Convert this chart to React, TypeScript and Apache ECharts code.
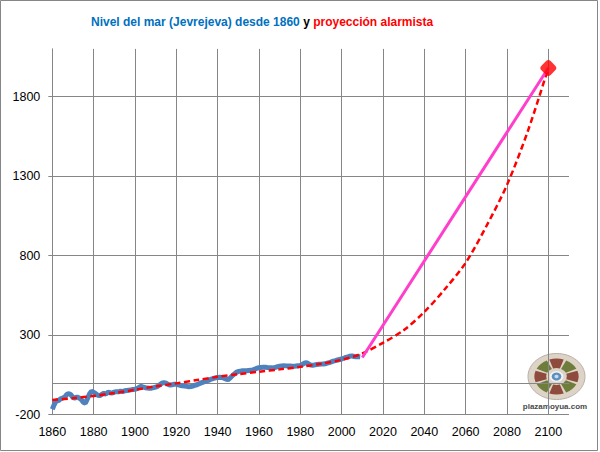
import React, { useEffect, useRef } from "react";
import * as echarts from "echarts";

const blueStartYear = 1860;
const blueValues = [
  -165, -135, -110, -112, -100, -95, -90, -72, -68, -75,
  -92, -95, -88, -95, -105, -122, -128, -100, -70, -52,
  -60, -68, -78, -80, -72, -66, -70, -58, -62, -64,
  -58, -55, -56, -52, -55, -50, -48, -46, -44, -42,
  -40, -36, -28, -22, -26, -30, -32, -34, -33, -30,
  -26, -22, -12, -2, 2, -2, -10, -14, -12, -8,
  -9, -12, -16, -18, -20, -22, -24, -23, -20, -15,
  -12, -6, 0, 5, 10, 14, 18, 24, 28, 32,
  34, 36, 34, 30, 24, 20, 30, 44, 55, 66,
  72, 74, 76, 77, 76, 78, 80, 82, 86, 92,
  95, 97, 98, 99, 97, 96, 95, 94, 98, 102,
  105, 107, 108, 107, 106, 107, 105, 104, 106, 108,
  110, 116, 124, 128, 120, 112, 110, 113, 116, 117,
  118, 119, 120, 124, 128, 132, 137, 140, 144, 147,
  150, 155, 160, 163, 168, 170, 166, 164, 165, 164,
];

const trendYears = [
  1860, 1870, 1880, 1890, 1900, 1910, 1920, 1930, 1940, 1950, 1960, 1970,
  1980, 1990, 2000, 2010, 2020, 2030, 2040, 2050, 2060, 2070, 2080, 2090, 2100,
];
const trendValues = [
  -108, -96, -82, -64, -43, -22, -3, 18, 38, 55, 70, 85,
  101, 120, 145, 185, 252, 331, 446, 590, 755, 985, 1245, 1580, 1980,
];

const projYears = [2010, 2100];
const projValues = [160, 1980];

const targetYears = [2100];
const targetValues = [1980];

const xTicks = [1860, 1880, 1900, 1920, 1940, 1960, 1980, 2000, 2020, 2040, 2060, 2080, 2100];
const yTicks = [-200, 300, 800, 1300, 1800];

const FONT = "Liberation Sans, Arial, sans-serif";
const GRID = "#868686";

export default function App() {
  const ref = useRef<HTMLDivElement>(null);

  useEffect(() => {
    if (!ref.current) return;
    const chart = echarts.init(ref.current, undefined, { renderer: "svg" });

    const blueData = blueValues.map((v, i) => [blueStartYear + i, v]);
    const trendData = trendValues.map((v, i) => [trendYears[i], v]);
    const projData = projValues.map((v, i) => [projYears[i], v]);
    const targetData = targetValues.map((v, i) => [targetYears[i], v]);

    const segColors = ["#8e4a3c", "#6f7d3c", "#8e4a3c", "#6f7d3c", "#8e4a3c", "#6f7d3c", "#8e4a3c", "#6f7d3c"];
    const segs = segColors.map((c, k) => {
      const mid = (k * 45 * Math.PI) / 180;
      const half = (19 * Math.PI) / 180;
      return {
        type: "sector",
        shape: { cx: 0, cy: 0, r0: 8, r: 17, startAngle: mid - half, endAngle: mid + half, clockwise: true },
        style: { fill: c },
      };
    });

    const plain = (v: number) => String(v);

    const option: any = {
      animation: false,
      backgroundColor: "#ffffff",
      title: {
        left: 86,
        top: 11,
        text: "{b|Nivel del mar (Jevrejeva) desde 1860} {k|y} {r|proyección alarmista}",
        textStyle: {
          fontFamily: FONT,
          fontSize: 12,
          fontWeight: "bold",
          color: "#000",
          rich: {
            b: { color: "#0070C0", fontFamily: FONT, fontSize: 12, fontWeight: "bold" },
            k: { color: "#000000", fontFamily: FONT, fontSize: 12, fontWeight: "bold" },
            r: { color: "#FF0000", fontFamily: FONT, fontSize: 12, fontWeight: "bold" },
          },
        },
      },
      grid: { left: 52.3, right: 31, top: 48.9, bottom: 37.3, containLabel: false },
      xAxis: {
        type: "value",
        min: 1860,
        max: 2110,
        interval: 20,
        axisLine: { show: false, onZero: false },
        axisTick: { show: false, customValues: xTicks },
        axisLabel: {
          customValues: xTicks,
          formatter: plain,
          color: "#000",
          fontFamily: FONT,
          fontSize: 12.5,
          margin: 11,
        },
        splitLine: { show: true, lineStyle: { color: GRID, width: 1 } },
      },
      yAxis: {
        type: "value",
        min: -200,
        max: 2100,
        interval: 500,
        axisLine: { show: true, lineStyle: { color: GRID, width: 1 } },
        axisTick: { show: true, length: 4, lineStyle: { color: GRID }, customValues: yTicks },
        axisLabel: {
          customValues: yTicks,
          formatter: plain,
          color: "#000",
          fontFamily: FONT,
          fontSize: 12.5,
          margin: 12,
        },
        splitLine: { show: true, lineStyle: { color: GRID, width: 1 } },
      },
      series: [
        {
          name: "Jevrejeva",
          type: "line",
          data: blueData,
          showSymbol: false,
          z: 2,
          lineStyle: { color: "#4F81BD", width: 5 },
          itemStyle: { color: "#4F81BD" },
          markLine: {
            z: 1,
            silent: true,
            symbol: "none",
            label: { show: false },
            lineStyle: { color: GRID, width: 1, type: "solid" },
            data: [{ yAxis: 0 }],
          },
        },
        {
          name: "tendencia",
          type: "line",
          data: trendData,
          showSymbol: false,
          smooth: 0.3,
          z: 3,
          lineStyle: { color: "#FF0000", width: 2.5, type: [6, 3.5] },
          itemStyle: { color: "#FF0000" },
        },
        {
          name: "proyección",
          type: "line",
          data: projData,
          showSymbol: false,
          z: 4,
          lineStyle: { color: "#FF3FCC", width: 3 },
          itemStyle: { color: "#FF3FCC" },
        },
        {
          name: "objetivo",
          type: "scatter",
          data: targetData,
          symbol: "roundRect",
          symbolSize: 13,
          symbolRotate: 45,
          z: 5,
          itemStyle: { color: "#FF0000" },
        },
      ],
      graphic: [
        {
          type: "rect",
          shape: { x: 0.5, y: 0.5, width: 597, height: 450 },
          style: { fill: "none", stroke: "#868686", lineWidth: 1 },
          silent: true,
          z: 100,
        },
        {
          type: "group",
          x: 556.5,
          y: 376.5,
          silent: true,
          children: [
            {
              type: "ellipse",
              shape: { cx: 0, cy: 0, rx: 28.5, ry: 23 },
              style: { fill: "#ddd3c6", stroke: "#b8b0a8", lineWidth: 1 },
            },
            {
              type: "group",
              scaleX: 1.3,
              scaleY: 1.05,
              children: [
                ...segs,
                {
                  type: "circle",
                  shape: { cx: 0, cy: 0, r: 4.5 },
                  style: { fill: "#5e8fbf", stroke: "#f2f2f2", lineWidth: 1.5 },
                },
                {
                  type: "circle",
                  shape: { cx: 0, cy: 0, r: 1.6 },
                  style: { fill: "#c8dcec" },
                },
              ],
            },
          ],
        },
        {
          type: "text",
          x: 555,
          y: 406,
          silent: true,
          style: {
            text: "plazamoyua.com",
            fill: "#4a4a4a",
            font: "bold 8px Liberation Sans, Arial, sans-serif",
            textAlign: "center",
            textVerticalAlign: "middle",
          },
        },
      ],
    };

    chart.setOption(option);
    return () => chart.dispose();
  }, []);

  return (
    <div
      ref={ref}
      style={{ position: "fixed", left: 0, top: 0, width: 600, height: 452 }}
    />
  );
}
